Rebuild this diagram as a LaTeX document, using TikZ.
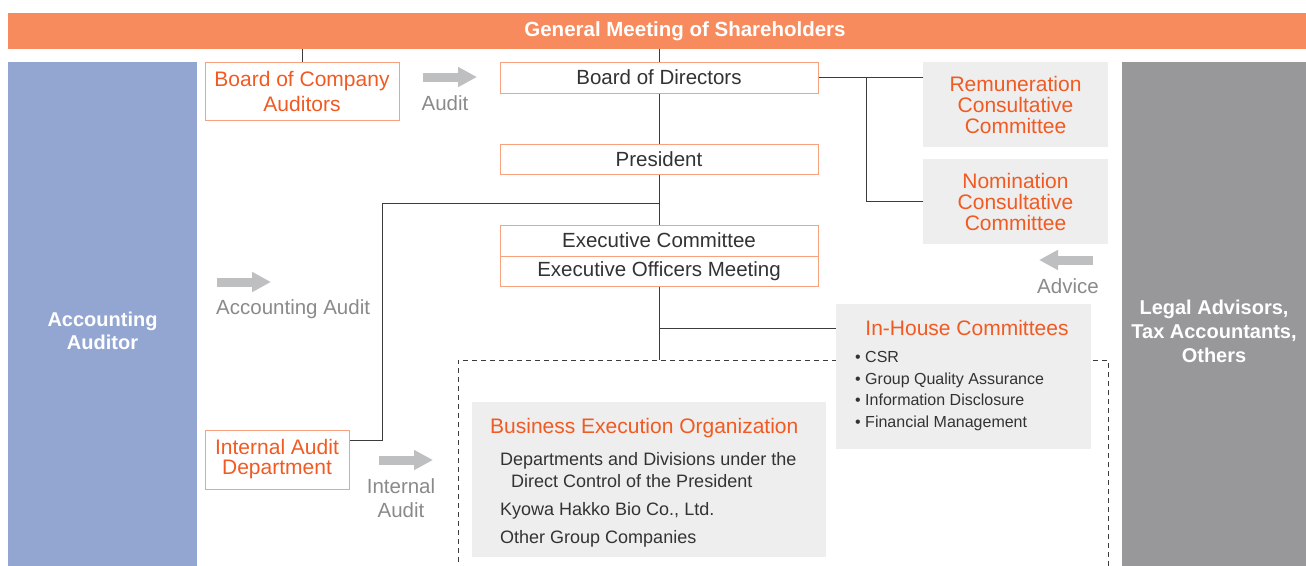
\documentclass[tikz,border=0pt]{standalone}
\usepackage{fontspec}
\setmainfont{Liberation Sans}
\usetikzlibrary{arrows.meta,calc}

\definecolor{barorange}{HTML}{F78B5D}
\definecolor{accent}{HTML}{F15A22}
\definecolor{boxedge}{HTML}{F7A17F}
\definecolor{panelgray}{HTML}{EDEEED}
\definecolor{auditblue}{HTML}{93A6D1}
\definecolor{advgray}{HTML}{98989B}
\definecolor{arrowgray}{HTML}{BDBFC1}
\definecolor{labelgray}{HTML}{8A8A8A}
\definecolor{darktxt}{HTML}{333333}
\definecolor{linecol}{HTML}{3C3C3C}

\tikzset{
  orgbox/.style={draw=boxedge, line width=1pt, fill=white, inner sep=0pt, align=center},
  darktext/.style={text=darktxt, font=\fontsize{20.5}{24}\selectfont},
  orangetext/.style={text=accent, align=center, font=\fontsize{21}{25}\selectfont},
  panel/.style={fill=panelgray, inner sep=0pt},
  sidebox/.style={inner sep=0pt, text=white, align=center, font=\bfseries\fontsize{20}{23.5}\selectfont},
  link/.style={draw=linecol, line width=0.9pt},
  flow/.style={draw=arrowgray, line width=9pt, -{Triangle[length=19pt,width=19pt]}},
  flowlabel/.style={text=labelgray, align=center, inner sep=0pt, font=\fontsize{20.5}{24}\selectfont},
}

\begin{document}
\begin{tikzpicture}[x=1pt,y=-1pt]
			%%%%% START %%%%%
			\useasboundingbox (0,0) rectangle (1306,565);
			\clip (0,0) rectangle (1306,565);
			
			\node[fill=barorange, minimum width=1298pt, minimum height=36pt, inner sep=0pt, text=white, font=\bfseries\fontsize{20.5}{24}\selectfont] (gms) at (657,31) {\hspace*{56pt}General Meeting of Shareholders};
			
			\node[sidebox, fill=auditblue, minimum width=189pt, minimum height=538pt] (acc) at (102.5,331) {Accounting\\Auditor};
			\node[sidebox, fill=advgray, font=\bfseries\fontsize{20}{24}\selectfont, minimum width=184pt, minimum height=538pt] (adv) at (1214,331) {Legal Advisors,\\Tax Accountants,\\Others};
			
			\node[draw=linecol, dash pattern=on 5pt off 4pt, line width=0.8pt, minimum width=650pt, minimum height=240pt, inner sep=0pt] (grp) at (783,480) {};
			
			\node[orgbox, orangetext, minimum width=194pt, minimum height=58pt] (bca) at (302,91) {Board of Company\\Auditors};
			\node[orgbox, darktext, minimum width=318pt, minimum height=31pt] (bod) at (659,77.5) {Board of Directors};
			\node[orgbox, darktext, minimum width=318pt, minimum height=30pt] (pres) at (659,159) {President};
			\node[orgbox, darktext, minimum width=318pt, minimum height=31pt] (exc) at (659,240.5) {Executive Committee};
			\node[orgbox, darktext, minimum width=318pt, minimum height=30pt] (eom) at (659,271) {Executive Officers Meeting};
			
			\node[panel, orangetext, font=\fontsize{21}{21}\selectfont, minimum width=185pt, minimum height=85pt] (rem) at (1015.5,104.5) {Remuneration\\Consultative\\Committee};
			\node[panel, orangetext, font=\fontsize{21}{21}\selectfont, minimum width=185pt, minimum height=85pt] (nom) at (1015.5,201.5) {Nomination\\Consultative\\Committee};
			
			\node[orgbox, orangetext, font=\fontsize{21}{20}\selectfont, minimum width=144pt, minimum height=59pt] (iad) at (277,459.5) {Internal Audit\\Department};
			
			% connectors
			\draw[link] (bca.north) -- (bca.north |- gms.south);
			\draw[link] (bod.north) -- (bod.north |- gms.south);
			\draw[link] (bod.east) -- (bod.east -| rem.west);
			\coordinate (split) at (866,77.5);
			\draw[link] (split) |- (nom.west);
			\draw[link] (bod) -- (pres);
			\draw[link] (pres) -- (exc);
			\coordinate (iadbend) at (382,203);
			\draw[link] (iadbend -| pres.south) -- (iadbend) |- ([yshift=19.5pt]iad.east);
			\draw[link] (eom) -- (eom.south |- grp.north);
			\draw[link] (eom.south |- 0,328) -- (836,328);
			
			\node[panel, minimum width=255pt, minimum height=145pt] (ihc) at (963.5,376.5) {};
			\node[orangetext, inner sep=0pt] (ihct) at (967,328) {In-House Committees};
			\node[text=darktxt, font=\fontsize{16}{21.7}\selectfont, align=left, anchor=north west, inner sep=0pt] (ihcl) at (855,351) {\textbullet\ CSR\\\textbullet\ Group Quality Assurance\\\textbullet\ Information Disclosure\\\textbullet\ Financial Management};
			
			\node[panel, minimum width=354pt, minimum height=155pt] (beo) at (649,479.5) {};
			\node[orangetext, anchor=west, inner sep=0pt] (beot) at (490,428) {Business Execution Organization};
			\node[text=darktxt, font=\fontsize{18}{22}\selectfont, align=left, anchor=north west, inner sep=0pt] (beol) at (500,452) {Departments and Divisions under the\\\hspace*{11pt}Direct Control of the President\\[6pt]Kyowa Hakko Bio Co., Ltd.\\[6pt]Other Group Companies};
			
			% flows
			\draw[flow] (423,77) -- (477,77);
			\node[flowlabel] (auditlbl) at (445,103) {Audit};
			\draw[flow] (217,282) -- (271,282);
			\node[flowlabel, anchor=west] (acclbl) at (216,309) {Accounting Audit};
			\draw[flow] (379,460) -- (433,460);
			\node[flowlabel] (iallbl) at (401,498) {Internal\\Audit};
			\draw[flow] (1093,260) -- (1039,260);
			\node[flowlabel] (advlbl) at (1068,286) {Advice};
			
			%%%%% END %%%%%
\end{tikzpicture}
\end{document}
